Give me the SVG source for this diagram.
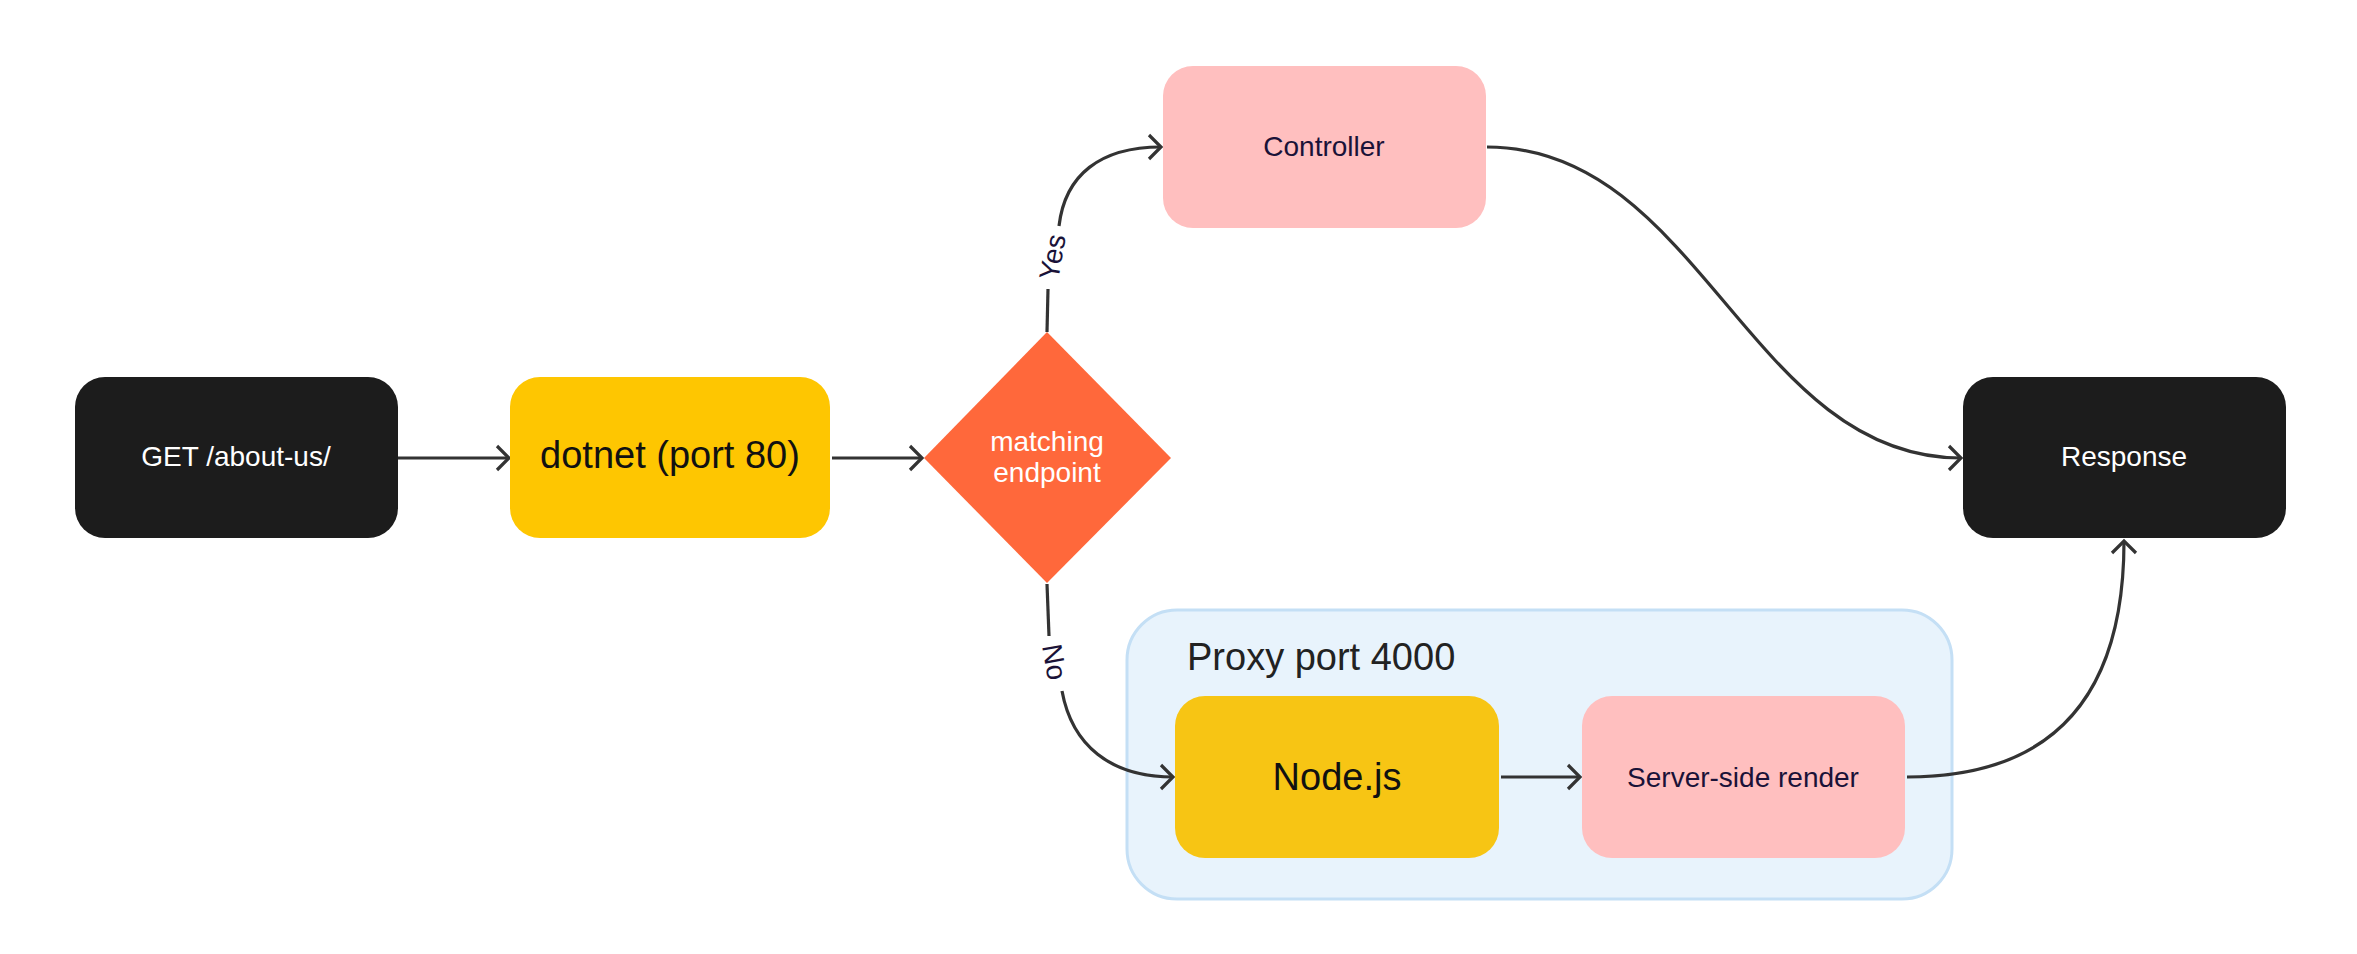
<svg xmlns="http://www.w3.org/2000/svg" width="2357" height="954" viewBox="0 0 2357 954">
<style>
.t{font-family:"Liberation Sans",Arial,sans-serif;text-anchor:middle}
.dark{fill:#1c1c1c}
.pink{fill:#ffbfbf}
.w{fill:#ffffff;font-size:28px}
.n{fill:#1a1238;font-size:28px}
.big{fill:#111111;font-size:38px}
.lbl{fill:#1a1238;font-size:28px}
.c{fill:none;stroke:#333333;stroke-width:3.2}
</style>
<defs>
<marker id="ah" markerUnits="userSpaceOnUse" markerWidth="20" markerHeight="30" refX="14" refY="13" orient="auto" overflow="visible">
<path d="M2,1 L14,13 L2,25" fill="none" stroke="#333333" stroke-width="3.2"/>
</marker>
</defs>
<rect width="2357" height="954" fill="#ffffff"/>
<g id="proxy">
<rect x="1127" y="610" width="825" height="289" rx="50" fill="#e8f3fc" stroke="#c4dff5" stroke-width="3"/>
<text x="1187" y="670" style="font-family:'Liberation Sans',Arial,sans-serif;font-size:38px;fill:#222222">Proxy port 4000</text>
</g>
<g id="connectors">
<path class="c" d="M398,458 L509,458" marker-end="url(#ah)"/>
<path class="c" d="M832,458 L922,458" marker-end="url(#ah)"/>
<path class="c" d="M1047,332 L1048,289"/>
<path class="c" d="M1059,226 C1065,175 1100,147 1161,147" marker-end="url(#ah)"/>
<text class="t lbl" transform="translate(1052,257) rotate(-80)" y="10">Yes</text>
<path class="c" d="M1047,584 L1049,636"/>
<path class="c" d="M1062,691 C1072,745 1110,777 1173,777" marker-end="url(#ah)"/>
<text class="t lbl" transform="translate(1055,662) rotate(80)" y="10">No</text>
<path class="c" d="M1487,147 C1700,147 1750,458 1961,458" marker-end="url(#ah)"/>
<path class="c" d="M1501,777 L1580,777" marker-end="url(#ah)"/>
<path class="c" d="M1907,777 C2050,777 2124,700 2124,541" marker-end="url(#ah)"/>
</g>
<g id="get">
<rect class="dark" x="75" y="377" width="323" height="161" rx="30"/>
<text class="t w" x="236" y="466">GET /about-us/</text>
</g>
<g id="dotnet">
<rect x="510" y="377" width="320" height="161" rx="30" fill="#fec601"/>
<text class="t big" x="670" y="468">dotnet (port 80)</text>
</g>
<g id="endpoint">
<polygon points="1047,332 1171,458 1047,583 924,458" fill="#ff683b"/>
<text class="t w" x="1047" y="451">matching</text>
<text class="t w" x="1047" y="482">endpoint</text>
</g>
<g id="controller">
<rect class="pink" x="1163" y="66" width="323" height="162" rx="30"/>
<text class="t n" x="1324" y="156">Controller</text>
</g>
<g id="response">
<rect class="dark" x="1963" y="377" width="323" height="161" rx="30"/>
<text class="t w" x="2124" y="466">Response</text>
</g>
<g id="nodejs">
<rect x="1175" y="696" width="324" height="162" rx="30" fill="#f7c514"/>
<text class="t big" x="1337" y="790">Node.js</text>
</g>
<g id="ssr">
<rect class="pink" x="1582" y="696" width="323" height="162" rx="30"/>
<text class="t n" x="1743" y="787">Server-side render</text>
</g>
</svg>
